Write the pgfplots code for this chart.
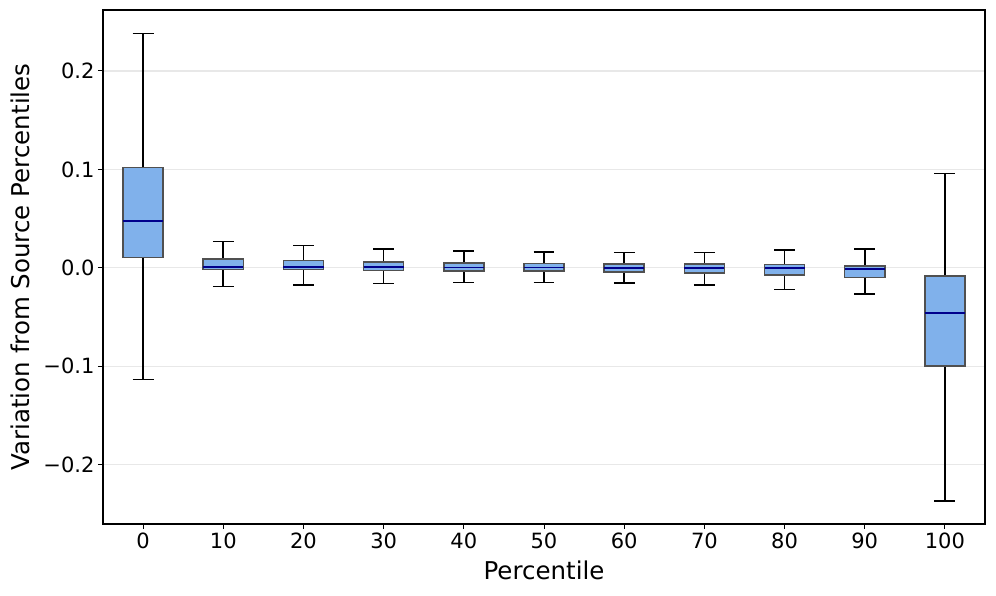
\documentclass[border=0pt]{standalone}
\usepackage{fontspec}
\setmainfont{DejaVu Sans}
\usepackage{pgfplots}
\pgfplotsset{compat=1.18}
\usepgfplotslibrary{statistics}

\definecolor{boxfill}{RGB}{128,177,235}
\definecolor{boxedge}{RGB}{80,80,80}
\definecolor{medline}{RGB}{0,0,140}
\definecolor{gridgray}{RGB}{232,232,232}

\pgfplotsset{
    pbox/.style = {
        solid, black, line width=1.7pt,
        boxplot/draw direction=y,
        boxplot/box extend=0.5,
        boxplot/whisker extend=0.26,
        boxplot/every box/.style={draw=boxedge, fill=boxfill, line width=1.6pt},
        boxplot/every median/.style={draw=medline, line width=1.7pt},
        boxplot/every whisker/.style={black, line width=1.7pt},
    }
}

\begin{document}
\begin{tikzpicture}
\begin{axis}[
    scale only axis,
    width=882pt, height=514pt,
    xmin=-0.5, xmax=10.5,
    ymin=-0.2605, ymax=0.2620,
    xtick={0,1,2,3,4,5,6,7,8,9,10},
    xticklabels={0,10,20,30,40,50,60,70,80,90,100},
    ytick={-0.2,-0.1,0,0.1,0.2},
    yticklabels={−0.2,−0.1,0.0,0.1,0.2},
    tick align=outside,
    major tick length=5pt,
    xtick pos=bottom, ytick pos=left,
    tick style={black, line width=1pt},
    ymajorgrids,
    grid style={gridgray, line width=1.1pt},
    axis line style={black, line width=1.1pt},
    ticklabel style={font=\fontsize{21}{25}\selectfont},
    label style={font=\fontsize{24.5}{29}\selectfont},
    xlabel={Percentile},
    ylabel={Variation from Source Percentiles},
    xlabel style={at={(axis description cs:0.5,-0.1075)}, anchor=base},
    ylabel style={at={(axis description cs:-0.0836,0.5)}, anchor=base},
]
\addplot+[pbox, boxplot prepared={draw position=0, lower whisker=-0.1137, lower quartile=0.0105, median=0.0477, upper quartile=0.1020, upper whisker=0.2380}] coordinates {};
\addplot+[pbox, boxplot prepared={draw position=1, lower whisker=-0.0190, lower quartile=-0.0017, median=0.0005, upper quartile=0.0091, upper whisker=0.0268}] coordinates {};
\addplot+[pbox, boxplot prepared={draw position=2, lower whisker=-0.0176, lower quartile=-0.0020, median=0.0007, upper quartile=0.0075, upper whisker=0.0227}] coordinates {};
\addplot+[pbox, boxplot prepared={draw position=3, lower whisker=-0.0159, lower quartile=-0.0027, median=0.0005, upper quartile=0.0060, upper whisker=0.0190}] coordinates {};
\addplot+[pbox, boxplot prepared={draw position=4, lower whisker=-0.0149, lower quartile=-0.0031, median=0.0003, upper quartile=0.0048, upper whisker=0.0170}] coordinates {};
\addplot+[pbox, boxplot prepared={draw position=5, lower whisker=-0.0149, lower quartile=-0.0034, median=0.0002, upper quartile=0.0044, upper whisker=0.0160}] coordinates {};
\addplot+[pbox, boxplot prepared={draw position=6, lower whisker=-0.0152, lower quartile=-0.0044, median=0.0000, upper quartile=0.0040, upper whisker=0.0156}] coordinates {};
\addplot+[pbox, boxplot prepared={draw position=7, lower whisker=-0.0176, lower quartile=-0.0054, median=-0.0003, upper quartile=0.0037, upper whisker=0.0156}] coordinates {};
\addplot+[pbox, boxplot prepared={draw position=8, lower whisker=-0.0220, lower quartile=-0.0071, median=-0.0005, upper quartile=0.0034, upper whisker=0.0180}] coordinates {};
\addplot+[pbox, boxplot prepared={draw position=9, lower whisker=-0.0270, lower quartile=-0.0098, median=-0.0010, upper quartile=0.0017, upper whisker=0.0190}] coordinates {};
\addplot+[pbox, boxplot prepared={draw position=10, lower whisker=-0.2370, lower quartile=-0.0998, median=-0.0457, upper quartile=-0.0087, upper whisker=0.0958}] coordinates {};
\end{axis}
\pgfresetboundingbox
\useasboundingbox ([xshift=-103pt,yshift=-72pt]current axis.south west) rectangle ([xshift=11pt,yshift=10pt]current axis.north east);
\end{tikzpicture}
\end{document}
